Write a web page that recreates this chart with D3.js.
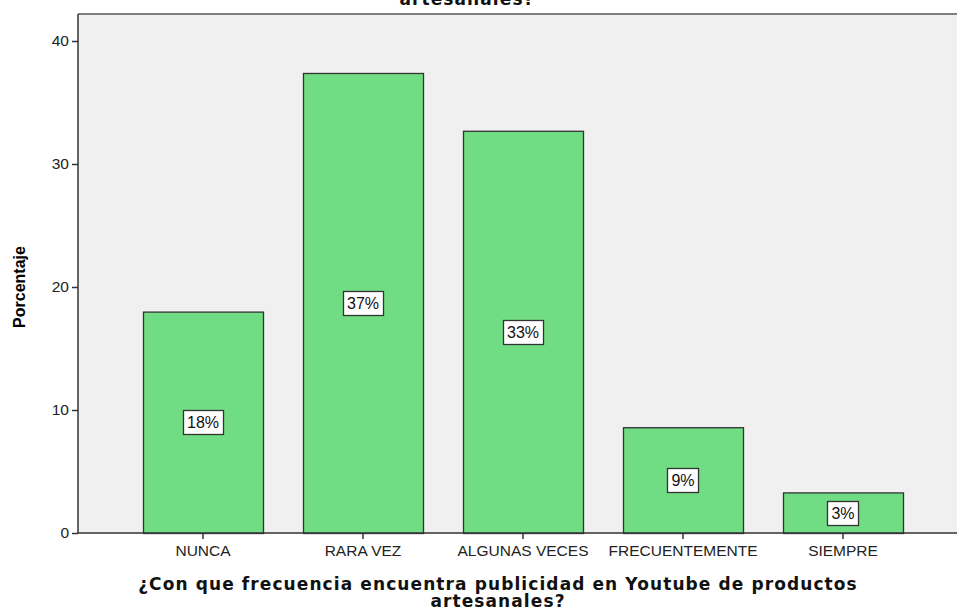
<!DOCTYPE html>
<html>
<head>
<meta charset="utf-8">
<script src="https://cdn.jsdelivr.net/npm/d3@7"></script>
<style>
  body { margin: 0; background: #fff; }
  svg { display: block; }
</style>
</head>
<body>
<svg id="chart" width="957" height="613"></svg>
<script>
// values (percent)
const categories = ["NUNCA", "RARA VEZ", "ALGUNAS VECES", "FRECUENTEMENTE", "SIEMPRE"];
const percentages = [18.0, 37.4, 32.7, 8.6, 3.3];
const barLabels = ["18%", "37%", "33%", "9%", "3%"];
const yTicks = [0, 10, 20, 30, 40];

const svg = d3.select("#chart");

const plotLeft = 78, plotRight = 968, plotTop = 14, plotBottom = 533;

const x = d3.scaleBand()
    .domain(categories)
    .range([plotLeft, plotRight])
    .paddingInner(0.25)
    .paddingOuter(0.40625);

const y = d3.scaleLinear()
    .domain([0, 40])
    .range([plotBottom, plotBottom - 492]);

// plot background
svg.append("rect")
    .attr("x", plotLeft)
    .attr("y", plotTop)
    .attr("width", plotRight - plotLeft)
    .attr("height", plotBottom - plotTop)
    .attr("fill", "#f0f0f0");

// top frame line
svg.append("line")
    .attr("x1", plotLeft).attr("x2", plotRight)
    .attr("y1", plotTop).attr("y2", plotTop)
    .attr("stroke", "#808080")
    .style("stroke-width", 2);

// bars
svg.selectAll(".bar")
    .data(percentages)
    .enter()
    .append("rect")
    .attr("class", "bar")
    .attr("x", (d, i) => x(categories[i]) + 0.5)
    .attr("y", d => y(d) + 0.5)
    .attr("width", x.bandwidth())
    .attr("height", d => y(0) - y(d))
    .attr("fill", "#70dc84")
    .attr("stroke", "#333")
    .style("stroke-width", 1.3);

// value labels in white boxes
percentages.forEach((d, i) => {
    const cx = x(categories[i]) + x.bandwidth() / 2;
    const cy = (y(d) + y(0)) / 2;
    const g = svg.append("g");
    const t = g.append("text")
        .attr("x", cx)
        .attr("y", cy + 6)
        .attr("text-anchor", "middle")
        .style("font-family", "'Liberation Sans', Arial, sans-serif")
        .style("font-size", "16px")
        .attr("fill", "#111")
        .text(barLabels[i]);
    const bb = t.node().getBBox();
    g.insert("rect", "text")
        .attr("x", Math.round(bb.x - 4) + 0.5)
        .attr("y", Math.round(cy - 12) + 0.5)
        .attr("width", Math.round(bb.width + 8))
        .attr("height", 24)
        .attr("fill", "#fff")
        .attr("stroke", "#333")
        .style("stroke-width", 1.3);
});

// y axis
const yAxis = svg.append("g")
    .attr("transform", `translate(${plotLeft},0)`)
    .call(d3.axisLeft(y).tickValues(yTicks).tickSize(6).tickSizeOuter(0));
yAxis.select(".domain").remove();
yAxis.selectAll("line").attr("stroke", "#333").style("stroke-width", 1.5);
yAxis.selectAll("text")
    .attr("x", -9)
    .attr("fill", "#222")
    .style("font-family", "'Liberation Sans', Arial, sans-serif")
    .style("font-size", "15.5px");

svg.append("line")
    .attr("x1", plotLeft).attr("x2", plotLeft)
    .attr("y1", plotTop).attr("y2", plotBottom)
    .attr("stroke", "#333")
    .style("stroke-width", 1.5);

// x axis
const xAxis = svg.append("g")
    .attr("transform", `translate(0,${plotBottom})`)
    .call(d3.axisBottom(x).tickSize(6).tickSizeOuter(0));
xAxis.select(".domain").remove();
xAxis.selectAll("line").attr("stroke", "#333").style("stroke-width", 1.5);
xAxis.selectAll("text")
    .attr("y", 12)
    .attr("fill", "#222")
    .style("font-family", "'Liberation Sans', Arial, sans-serif")
    .style("font-size", "15.5px");

svg.append("line")
    .attr("x1", plotLeft).attr("x2", plotRight)
    .attr("y1", plotBottom).attr("y2", plotBottom)
    .attr("stroke", "#333")
    .style("stroke-width", 1.5);

// axis titles
svg.append("text")
    .attr("transform", "translate(25,287) rotate(-90)")
    .attr("text-anchor", "middle")
    .style("font-family", "'Liberation Sans', Arial, sans-serif")
    .style("font-size", "16px")
    .style("font-weight", "bold")
    .text("Porcentaje");

const xTitle = svg.append("text")
    .attr("text-anchor", "middle")
    .style("font-family", "'DejaVu Sans', Verdana, sans-serif")
    .style("font-size", "17px")
    .style("font-weight", "bold")
    .style("letter-spacing", "1.1px")
    .attr("fill", "#111");
xTitle.append("tspan").attr("x", 498).attr("y", 590)
    .text("¿Con que frecuencia encuentra publicidad en Youtube de productos");
xTitle.append("tspan").attr("x", 498).attr("y", 607)
    .text("artesanales?");

// chart title, mostly cut off at the top
svg.append("text")
    .attr("x", 467)
    .attr("y", 5)
    .attr("text-anchor", "middle")
    .style("font-family", "'DejaVu Sans', Verdana, sans-serif")
    .style("font-size", "17px")
    .style("font-weight", "bold")
    .style("letter-spacing", "1.1px")
    .attr("fill", "#111")
    .text("artesanales?");
</script>
</body>
</html>
